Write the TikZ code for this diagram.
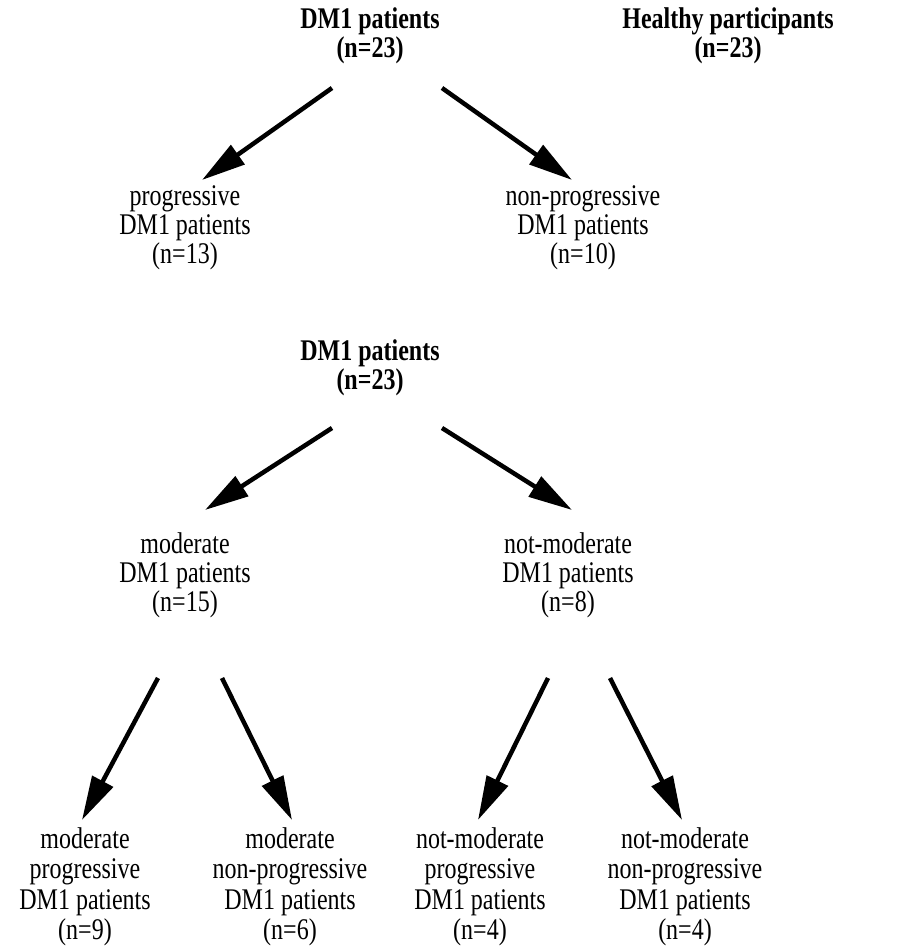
\documentclass[tikz,border=0pt]{standalone}
\usepackage{fontspec}
\setmainfont{Liberation Serif}[FakeStretch=0.8]
\usepackage{tikz}
\usetikzlibrary{arrows.meta}

\begin{document}
\begin{tikzpicture}[
  x=1pt, y=-1pt,
  grp/.style={align=center, inner sep=0pt, font=\fontsize{30}{29}\selectfont},
  leaf/.style={grp, font=\fontsize{30}{30.5}\selectfont},
  head/.style={grp, font=\fontsize{30}{29}\selectfont\bfseries},
  arr/.style={-{Triangle[length=44pt,width=23pt]}, line width=4.5pt}
]
\useasboundingbox (0,0) rectangle (903,949);
% first split
\node[head] (dmA) at (370,36) {DM1 patients\\(n=23)};
\node[head] (healthy) at (728,36) {Healthy participants\\(n=23)};
\node[grp] (prog) at (185,228) {progressive\\DM1 patients\\(n=13)};
\node[grp] (nprog) at (583,228) {non-progressive\\DM1 patients\\(n=10)};
\draw[arr] ([shift={(-38,52)}]dmA.center) -- ([shift={(17,-48)}]prog.center);
\draw[arr] ([shift={(72,52)}]dmA.center) -- ([shift={(-11,-48)}]nprog.center);
% second split
\node[head] (dmB) at (370,368) {DM1 patients\\(n=23)};
\node[grp] (mod) at (185,575) {moderate\\DM1 patients\\(n=15)};
\node[grp] (nmod) at (568,575) {not-moderate\\DM1 patients\\(n=8)};
\draw[arr] ([shift={(-38,60)}]dmB.center) -- ([shift={(20,-65)}]mod.center);
\draw[arr] ([shift={(72,60)}]dmB.center) -- ([shift={(4,-65)}]nmod.center);
\node[leaf] (modprog) at (85,887) {moderate\\progressive\\DM1 patients\\(n=9)};
\node[leaf] (modnprog) at (290,887) {moderate\\non-progressive\\DM1 patients\\(n=6)};
\node[leaf] (nmodprog) at (480,887) {not-moderate\\progressive\\DM1 patients\\(n=4)};
\node[leaf] (nmodnprog) at (685,887) {not-moderate\\non-progressive\\DM1 patients\\(n=4)};
\draw[arr] ([shift={(-27,103)}]mod.center) -- ([shift={(-3,-67)}]modprog.center);
\draw[arr] ([shift={(37,103)}]mod.center) -- ([shift={(2,-67)}]modnprog.center);
\draw[arr] ([shift={(-20,103)}]nmod.center) -- ([shift={(-2,-67)}]nmodprog.center);
\draw[arr] ([shift={(42,103)}]nmod.center) -- ([shift={(-3,-67)}]nmodnprog.center);
\end{tikzpicture}
\end{document}
